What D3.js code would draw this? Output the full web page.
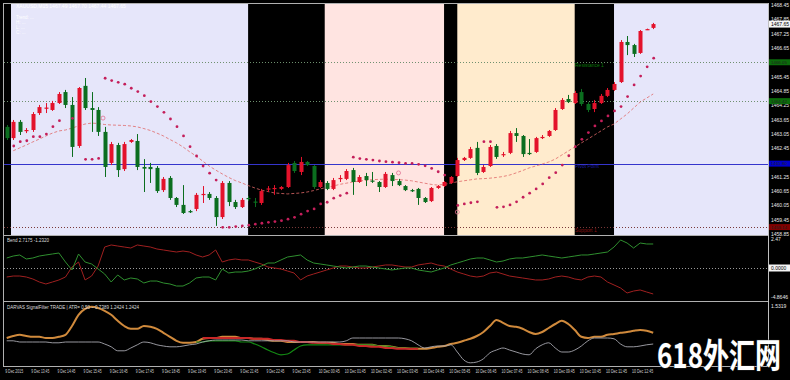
<!DOCTYPE html>
<html><head><meta charset="utf-8">
<script src="https://cdn.jsdelivr.net/npm/d3@7"></script>
<style>body{margin:0;background:#000;overflow:hidden}svg{display:block}</style>
</head><body><svg id="c" width="790" height="380"></svg>
<script>
// ---------- DATA ----------
const opens  = [1463.34,1462.87,1463.55,1463.17,1463.21,1463.92,1464.13,1464.05,1464.34,1464.80,1464.26,1462.54,1465.06,1464.13,1464.05,1463.13,1461.83,1462.58,1461.57,1462.71,1462.75,1461.66,1461.66,1461.62,1460.69,1461.20,1460.36,1460.07,1459.81,1459.90,1460.51,1460.53,1460.36,1459.56,1460.99,1460.19,1459.98,1460.36,1460.21,1460.15,1460.74,1460.74,1460.74,1460.82,1461.83,1461.45,1461.87,1461.70,1460.82,1460.99,1460.74,1461.16,1461.16,1461.53,1461.03,1461.28,1461.09,1461.03,1460.82,1461.32,1461.07,1460.86,1460.69,1460.74,1460.36,1460.23,1460.78,1460.86,1460.99,1461.28,1461.95,1462.04,1462.46,1461.45,1461.70,1462.54,1462.16,1462.25,1463.08,1462.96,1462.25,1462.29,1462.87,1462.96,1463.21,1464.09,1464.51,1464.34,1464.80,1464.30,1464.09,1464.34,1464.64,1464.89,1465.22,1466.90,1466.77,1466.44,1467.42,1467.49];
const highs  = [1463.42,1463.63,1463.63,1463.29,1463.96,1464.26,1464.34,1464.43,1464.80,1464.89,1464.59,1465.01,1465.39,1464.80,1464.17,1463.34,1462.71,1462.67,1462.71,1462.83,1463.04,1461.99,1461.83,1461.70,1461.24,1461.28,1460.40,1460.90,1459.86,1460.57,1460.86,1460.61,1460.44,1461.07,1461.07,1460.28,1460.36,1460.44,1460.36,1460.74,1460.86,1460.90,1460.86,1461.83,1461.91,1462.08,1461.91,1461.74,1461.11,1461.07,1461.20,1461.32,1461.57,1461.62,1461.32,1461.41,1461.45,1461.07,1461.45,1461.41,1461.16,1460.90,1460.74,1460.78,1460.40,1460.82,1460.90,1461.07,1461.28,1462.04,1462.08,1462.50,1462.71,1461.74,1462.58,1462.62,1462.29,1463.17,1463.29,1463.00,1462.83,1462.92,1463.00,1463.21,1464.13,1464.55,1464.68,1464.85,1464.93,1464.38,1464.47,1464.72,1464.97,1465.22,1466.98,1467.15,1466.82,1467.40,1467.46,1467.70];
const lows   = [1462.79,1462.79,1463.00,1463.08,1463.13,1463.84,1463.92,1464.01,1464.30,1464.13,1462.08,1462.46,1464.05,1463.13,1462.96,1461.24,1461.74,1461.24,1461.49,1462.67,1461.53,1460.61,1460.99,1460.57,1460.61,1460.28,1459.98,1459.69,1459.73,1459.81,1460.15,1460.28,1459.19,1459.48,1460.02,1459.90,1459.94,1460.23,1459.98,1460.07,1460.61,1460.49,1460.69,1460.78,1461.41,1461.32,1461.70,1460.74,1460.78,1460.69,1460.69,1461.03,1461.11,1460.49,1460.99,1460.86,1460.99,1460.61,1460.78,1460.86,1460.86,1460.65,1460.61,1460.07,1460.15,1460.19,1460.74,1460.82,1460.95,1461.24,1461.91,1462.00,1461.32,1461.41,1461.66,1462.00,1462.08,1462.20,1462.71,1462.08,1462.16,1462.25,1462.83,1462.92,1463.17,1464.05,1464.34,1464.30,1464.22,1463.96,1463.96,1464.30,1464.59,1464.85,1465.18,1466.35,1466.27,1466.40,1467.40,1467.44];
const closes = [1462.87,1463.55,1463.13,1463.21,1463.88,1464.17,1464.15,1464.34,1464.72,1464.26,1462.50,1464.97,1464.13,1464.05,1463.13,1461.66,1462.62,1461.53,1462.62,1462.79,1461.66,1461.59,1461.57,1460.65,1461.16,1460.36,1460.07,1459.73,1459.77,1460.49,1460.53,1460.36,1459.56,1460.99,1460.19,1459.98,1460.28,1460.32,1460.19,1460.65,1460.76,1460.78,1460.82,1461.74,1461.49,1461.87,1461.74,1460.82,1461.03,1460.74,1461.11,1461.20,1461.49,1461.03,1461.24,1461.11,1461.08,1460.82,1461.37,1461.07,1460.90,1460.69,1460.67,1460.36,1460.19,1460.78,1460.86,1461.03,1461.24,1461.95,1462.04,1462.41,1461.41,1461.66,1462.50,1462.08,1462.20,1463.08,1462.96,1462.20,1462.23,1462.87,1462.92,1463.17,1464.05,1464.47,1464.38,1464.76,1464.30,1464.05,1464.34,1464.64,1464.89,1465.14,1466.90,1466.77,1466.40,1467.36,1467.44,1467.65];
const sar = [null,1462.54,1462.72,1462.76,1462.93,1462.93,1463.04,1463.35,1463.60,null,1463.70,null,1461.98,1461.98,1462.02,
  1465.38,1465.28,1465.21,1465.13,1464.96,1464.82,1464.65,1464.40,1464.19,1463.95,1463.67,1463.35,1462.96,1462.51,1462.12,1461.70,1461.40,1461.11,
  1459.13,1459.13,1459.16,1459.19,1459.22,1459.26,1459.30,1459.34,1459.37,1459.41,1459.47,1459.55,1459.68,1459.81,1459.90,1460.11,1460.18,1460.35,1460.46,1460.56,
  1462.07,1462.01,1461.98,1461.95,1461.91,1461.88,1461.86,1461.84,1461.81,1461.81,1461.77,1461.71,1461.60,1461.46,1461.32,
  null,1460.05,1460.11,1460.16,1460.20,1462.72,1462.72,
  1459.97,1459.99,1460.07,1460.20,1460.39,1460.56,1460.74,1460.95,1461.21,1461.42,1461.74,1462.13,1462.51,1462.82,1463.10,1463.38,1463.59,1463.80,1464.01,1464.19,1464.61,1465.10,1465.47,1465.86,1466.22];
const ma = [null,1462.34,1462.46,1462.58,1462.71,1462.83,1462.96,1463.08,1463.17,1463.21,1463.29,1463.38,1463.46,1463.50,1463.48,1463.44,1463.42,1463.41,1463.40,1463.38,1463.34,1463.27,1463.19,1463.08,1462.96,1462.81,1462.67,1462.50,1462.30,1462.12,1461.91,1461.70,1461.53,1461.37,1461.22,1461.09,1460.99,1460.88,1460.78,1460.69,1460.63,1460.57,1460.55,1460.53,1460.55,1460.57,1460.61,1460.67,1460.74,1460.80,1460.86,1460.93,1460.98,1461.03,1461.07,1461.10,1461.13,1461.14,1461.15,1461.14,1461.13,1461.11,1461.08,1461.03,1460.98,1460.93,1460.90,1460.93,1460.98,1461.04,1461.08,1461.12,1461.16,1461.17,1461.19,1461.22,1461.26,1461.32,1461.41,1461.51,1461.62,1461.70,1461.78,1461.87,1461.99,1462.16,1462.33,1462.50,1462.67,1462.83,1463.00,1463.17,1463.34,1463.46,1463.67,1463.88,1464.13,1464.38,1464.55,1464.72];
const markerIdx = [14.75, 60, 69];
const markerPrice = [1463.71, 1461.41, 1459.77];
const levelPrice = [1466.05, 1464.42, 1461.80, 1459.14];
const levelKind  = ["res", "res", "pivot", "sup"];
const levelText  = ["Resistance 1", "", "Pivot Point", "Support 1"];
const sessionStart = [-0.42, 0.66, 37, 48.7, 67, 69, 87, 93];
const sessionEnd   = [0.66, 37, 48.7, 67, 69, 87, 93, 120];
const sessionKind  = ["off","lav","off","pink","off","peach","off","lav"];
const priceTicks = [1468.45,1467.85,1467.25,1466.65,1466.05,1465.45,1464.85,1464.25,1463.65,1463.05,1462.45,1461.85,1461.25,1460.65,1460.05,1459.45,1458.85];
const timeLabels = ["9 Dec 2015","9 Dec 13:45","9 Dec 14:45","9 Dec 15:45","9 Dec 16:45","9 Dec 17:45","9 Dec 18:45","9 Dec 19:45","9 Dec 20:45","9 Dec 21:45","9 Dec 22:45","9 Dec 23:45","10 Dec 00:45","10 Dec 01:45","10 Dec 02:45","10 Dec 03:45","10 Dec 04:45","10 Dec 05:45","10 Dec 06:45","10 Dec 07:45","10 Dec 08:45","10 Dec 09:45","10 Dec 10:45","10 Dec 11:45","10 Dec 12:45"];
const infoLines = ["Trend: ...","H: ...","L: ...","C: ..."];
// panel 1 (Bend)
const bendGreen = [1.52,1.82,1.98,1.37,1.52,1.82,1.98,2.13,2.28,0.91,-0.30,2.13,0.91,0.61,-0.15,-0.91,-2.13,-1.06,-1.82,-1.52,-1.67,-2.28,-1.98,-1.98,-2.28,-2.43,-2.74,-2.74,-2.28,-1.52,-1.37,-1.37,-1.82,-0.15,-0.76,-0.61,-0.61,-0.46,-0.15,0.30,0.76,0.76,1.22,1.67,1.82,1.98,1.22,0.76,0.61,0.46,0.30,0.15,0,0.15,0.30,0.30,0.15,0,-0.15,-0.30,-0.15,0,0,-0.30,-0.46,-0.61,-0.30,0,0.46,0.76,1.06,1.37,1.52,1.52,1.22,0.91,1.06,1.37,1.52,1.52,1.67,1.82,1.98,1.82,1.67,1.52,1.67,1.82,1.98,1.98,2.13,2.28,2.43,3.19,4.26,3.80,3.04,3.80,3.65,3.65];
const bendRed = [-1.37,-1.22,-1.22,-1.37,-1.67,-2.13,-2.43,-2.13,-1.82,-1.37,0.15,0.91,-1.82,-1.22,0.30,3.19,3.50,3.34,3.19,3.04,3.50,3.34,3.19,2.89,2.74,2.58,2.43,2.58,2.43,1.98,1.67,1.98,2.74,0.91,1.22,1.37,1.22,1.22,0.91,0.61,0.15,0,-0.15,-0.46,-0.76,-1.82,-1.22,-0.91,-0.61,-0.30,0,0.30,0.30,0.15,0,0,0.15,0.30,0.46,0.46,0.30,0.15,0.15,0.46,0.61,0.76,0.46,0.30,-0.15,-0.61,-0.91,-1.22,-1.37,-1.22,-0.76,-0.61,-0.91,-1.22,-1.37,-1.52,-1.67,-1.82,-1.82,-1.67,-1.37,-1.22,-1.37,-1.67,-1.82,-1.37,-1.22,-1.37,-2.13,-2.58,-3.04,-3.80,-3.50,-3.34,-3.65,-3.95];
const bendTicks = ["2.47","0.0000","-4.8646"];
const bendTickVal = [4.4, 0, -4.8646];
// panel 2 (Darvas)
const darvasOrange = [0.70,0.75,0.78,0.75,0.73,0.73,0.70,0.70,0.73,0.78,1.00,1.28,1.43,1.48,1.45,1.38,1.28,1.13,1.00,0.93,0.93,1.00,0.98,0.93,0.83,0.73,0.63,0.58,0.58,0.60,0.68,0.70,0.70,0.73,0.73,0.73,0.70,0.70,0.68,0.68,0.65,0.63,0.63,0.60,0.60,0.60,0.60,0.60,0.58,0.58,0.58,0.55,0.55,0.55,0.53,0.53,0.53,0.50,0.50,0.48,0.45,0.45,0.43,0.43,0.43,0.45,0.48,0.50,0.55,0.58,0.63,0.68,0.75,0.85,1.00,1.15,1.08,1.00,0.98,0.93,0.85,0.80,0.85,0.95,1.05,1.13,1.05,0.90,0.73,0.70,0.73,0.73,0.78,0.80,0.83,0.85,0.88,0.90,0.88,0.83];
const darvasGray = [0.63,0.63,0.60,0.60,0.60,0.60,0.60,0.58,0.58,0.60,0.60,0.60,0.60,0.60,0.60,0.55,0.48,0.38,0.38,0.45,0.53,0.60,0.58,0.53,0.50,0.48,0.48,0.50,0.53,0.55,0.60,0.63,0.65,0.65,0.65,0.65,0.65,0.63,0.63,0.63,0.63,0.63,0.63,0.63,0.60,0.60,0.60,0.60,0.60,0.60,0.60,0.60,0.63,0.70,0.70,0.70,0.70,0.70,0.70,0.70,0.70,0.68,0.63,0.53,0.45,0.48,0.50,0.50,0.53,0.35,0.15,0.08,0.10,0.18,0.33,0.40,0.45,0.40,0.35,0.30,0.28,0.43,0.53,0.58,0.45,0.35,0.35,0.40,0.50,0.63,0.70,0.70,0.70,0.68,0.55,0.48,0.48,0.50,0.53,0.55];
const darvasGreen = [null,null,null,null,null,null,null,null,null,null,null,null,null,null,null,null,null,null,null,null,null,null,null,null,null,null,null,null,null,0.60,0.60,0.63,0.63,0.63,0.63,0.63,0.60,0.60,0.55,0.48,0.40,0.33,0.28,0.30,0.40,0.50,0.53,0.53,0.53,0.53,0.53,0.53,0.53,0.53,0.53,0.53,0.53,0.50,0.50,0.48,0.45,0.45,0.45,0.45];
const darvasRed = [null,null,null,null,null,null,null,null,null,null,null,null,null,null,null,null,null,null,null,null,null,null,null,null,null,null,null,null,null,null,0.70,0.70,0.70,0.70,0.70,0.70,0.70,0.70,0.68,0.68,0.68,0.65,0.65,0.63,0.63,0.60,0.60,0.58,0.58,0.58,0.55,0.55,0.53,0.53,0.50,0.50,0.48,0.48,0.45,0.45,0.43,0.43,0.43,0.43];
const darvasTop = "1.5319";

// ---------- LAYOUT / STYLE ----------
const plotL = 4, plotR = 768, mainT = 4, mainB = 235;
const p1T = 236, p1B = 300, p2T = 303, p2B = 366;
const RED = "#e3122b", GREEN = "#0b6e1f";
const bandColor = {off:"#000000", lav:"#e6e6fa", pink:"#ffe4e1", peach:"#ffebcd"};
const levelStyle = {res:{c:"#6f906f",dash:"1,2",box:"#0b6b0b",txt:"#0a7a0a"}, pivot:{c:"#3535cc",dash:null,box:"#0000cd",txt:"#1a1aa0"}, sup:{c:"#7a3a3a",dash:"1,2",box:"#800000",txt:"#8a1010"}};
const FONT = "Liberation Sans, Arial, sans-serif";

const svg = d3.select("#c");
svg.append("rect").attr("width",790).attr("height",380).attr("fill","#000");

const x = d3.scaleLinear().domain([0,99]).range([6.7,653.2]);
const y = d3.scaleLinear().domain([1458.85,1468.45]).range([234,5]);
const y1 = d3.scaleLinear().domain([-4.8646,4.8646]).range([p1B,p1T]);
const y2 = d3.scaleLinear().domain([0,1.575]).range([p2B,p2T]);

const defs = svg.append("defs");
defs.append("clipPath").attr("id","cm").append("rect").attr("x",plotL).attr("y",mainT).attr("width",plotR-plotL).attr("height",mainB-mainT);
defs.append("clipPath").attr("id","cp").append("rect").attr("x",plotL).attr("y",0).attr("width",plotR-plotL).attr("height",380);

// ---------- MAIN ----------
const gm = svg.append("g").attr("clip-path","url(#cm)");
const sIdx = d3.range(sessionStart.length);
gm.selectAll("rect.band").data(sIdx).join("rect")
  .attr("x",i=>Math.max(plotL,x(sessionStart[i]))).attr("y",mainT)
  .attr("width",i=>Math.min(plotR,x(sessionEnd[i]))-Math.max(plotL,x(sessionStart[i])))
  .attr("height",mainB-mainT).attr("fill",i=>bandColor[sessionKind[i]]);

const lIdx = d3.range(levelPrice.length);
gm.selectAll("line.lvl").data(lIdx).join("line")
  .attr("x1",plotL).attr("x2",plotR)
  .attr("y1",i=>Math.round(y(levelPrice[i]))+0.5).attr("y2",i=>Math.round(y(levelPrice[i]))+0.5)
  .attr("stroke",i=>levelStyle[levelKind[i]].c).attr("stroke-width",1)
  .attr("stroke-dasharray",i=>levelStyle[levelKind[i]].dash);

// moving average
gm.append("path").datum(ma).attr("fill","none").attr("stroke","#e06868").attr("stroke-width",0.8)
  .attr("stroke-dasharray","3,2")
  .attr("d",d3.line().defined(d=>d!=null).x((d,i)=>x(i)).y(d=>y(d)));

const cIdx = d3.range(opens.length);
const col = i => closes[i] >= opens[i] ? RED : GREEN;
gm.selectAll("line.wick").data(cIdx).join("line")
  .attr("x1",i=>Math.round(x(i))+0.5).attr("x2",i=>Math.round(x(i))+0.5)
  .attr("y1",i=>y(highs[i])).attr("y2",i=>y(lows[i])).attr("stroke",col).attr("stroke-width",1);
gm.selectAll("rect.body").data(cIdx).join("rect")
  .attr("x",i=>Math.round(x(i))-1.5).attr("width",4)
  .attr("y",i=>y(Math.max(opens[i],closes[i])))
  .attr("height",i=>Math.max(1.2,Math.abs(y(opens[i])-y(closes[i]))))
  .attr("fill",col);

// SAR
gm.selectAll("circle.sar").data(cIdx.filter(i=>sar[i]!=null)).join("circle")
  .attr("cx",i=>x(i)+0.5).attr("cy",i=>y(sar[i])).attr("r",1.4).attr("fill","#c41e5a");

// markers
gm.selectAll("circle.mk").data(d3.range(markerIdx.length)).join("circle")
  .attr("cx",i=>x(markerIdx[i])).attr("cy",i=>y(markerPrice[i])).attr("r",2)
  .attr("fill","none").attr("stroke","#e07090").attr("stroke-width",0.8);

// level texts
gm.selectAll("text.lt").data(lIdx.filter(i=>levelText[i])).join("text")
  .attr("x",575).attr("y",i=>y(levelPrice[i])+4.5).text(i=>levelText[i])
  .attr("font-family",FONT).attr("font-size",5).attr("fill",i=>levelStyle[levelKind[i]].txt);

// info texts
svg.append("rect").attr("x",5).attr("y",4).attr("width",3).attr("height",3).attr("fill","#000");
svg.append("text").attr("x",16).attr("y",8).text("XAUUSD,M15  1467.49 1467.70 1467.44 1467.65")
  .attr("font-family",FONT).attr("font-size",5).attr("fill","#ffffff");
svg.selectAll("text.info").data(infoLines).join("text").attr("x",16).attr("y",(d,i)=>19+i*5).text(d=>d)
  .attr("font-family",FONT).attr("font-size",4.5).attr("fill","#ffffff");

// ---------- PANEL 1 ----------
const g1 = svg.append("g").attr("clip-path","url(#cp)");
g1.append("line").attr("x1",plotL).attr("x2",plotR).attr("y1",y1(0)+0.5).attr("y2",y1(0)+0.5)
  .attr("stroke","#9a9a9a").attr("stroke-dasharray","1,2");
g1.append("path").datum(bendRed).attr("fill","none").attr("stroke","#a02020").attr("stroke-width",1)
  .attr("d",d3.line().x((d,i)=>x(i)).y(d=>y1(d)));
g1.append("path").datum(bendGreen).attr("fill","none").attr("stroke","#2f8f2f").attr("stroke-width",1)
  .attr("d",d3.line().x((d,i)=>x(i)).y(d=>y1(d)));
svg.append("text").attr("x",7).attr("y",p1T+6).text("Bend 2.7175 -1.2320")
  .attr("font-family",FONT).attr("font-size",4.5).attr("fill","#dddddd");

// ---------- PANEL 2 ----------
const g2 = svg.append("g").attr("clip-path","url(#cp)");
const ln2 = d3.line().defined(d=>d!=null).x((d,i)=>x(i)).y(d=>y2(d)).curve(d3.curveMonotoneX);
g2.append("path").datum(darvasOrange).attr("fill","none").attr("stroke","#d08a3c").attr("stroke-width",2).attr("d",ln2);
g2.append("path").datum(darvasGreen).attr("fill","none").attr("stroke","#138a13").attr("stroke-width",1.2).attr("d",ln2);
g2.append("path").datum(darvasRed).attr("fill","none").attr("stroke","#c82828").attr("stroke-width",2).attr("d",ln2);
g2.append("path").datum(darvasGray).attr("fill","none").attr("stroke","#a8a8b0").attr("stroke-width",0.9).attr("d",ln2);
svg.append("text").attr("x",7).attr("y",p2T+6).text("DARVAS SignalFilter TRADE  |  ATR= 0.50  ~  0.7389  1.2424  1.2424")
  .attr("font-family",FONT).attr("font-size",4.5).attr("fill","#dddddd");

// ---------- FRAMES ----------
[mainB+0.5, 301.5, p2B+0.5].forEach(v=>svg.append("line").attr("x1",plotL).attr("x2",plotR).attr("y1",v).attr("y2",v).attr("stroke","#b0b0b0"));
svg.append("line").attr("x1",plotL).attr("x2",plotR).attr("y1",mainT-0.5).attr("y2",mainT-0.5).attr("stroke","#b0b0b0");
svg.append("line").attr("x1",plotR+0.5).attr("x2",plotR+0.5).attr("y1",mainT-1).attr("y2",p2B+1).attr("stroke","#c0c0c0");
svg.append("line").attr("x1",plotL-0.5).attr("x2",plotL-0.5).attr("y1",mainT-1).attr("y2",p2B+1).attr("stroke","#b0b0b0");

// ---------- PRICE AXIS ----------
const boxY = lIdx.map(i=>y(levelPrice[i]));
const visTicks = priceTicks.filter(d=>boxY.every(b=>Math.abs(y(d)-b)>3));
svg.selectAll("text.pt").data(visTicks).join("text").attr("x",771).attr("y",d=>y(d)+2).text(d=>d.toFixed(2))
  .attr("font-family",FONT).attr("font-size",5).attr("fill","#e8e8e8");
svg.selectAll("rect.lb").data(lIdx).join("rect").attr("x",769).attr("y",i=>y(levelPrice[i])-3)
  .attr("width",21).attr("height",6).attr("fill",i=>levelStyle[levelKind[i]].box);
svg.selectAll("text.lbt").data(lIdx).join("text").attr("x",771).attr("y",i=>y(levelPrice[i])+1.6)
  .text(i=>levelPrice[i].toFixed(2)).attr("font-family",FONT).attr("font-size",4.4).attr("fill","#202020");
const last = closes[closes.length-1];
svg.append("rect").attr("x",769).attr("y",y(last)-3.5).attr("width",21).attr("height",7).attr("fill","#f4f4f4");
svg.append("text").attr("x",771).attr("y",y(last)+2).text(last.toFixed(2)).attr("font-family",FONT).attr("font-size",5).attr("fill","#000");

// panel axes
svg.append("rect").attr("x",769).attr("y",y1(0)-3.5).attr("width",21).attr("height",7).attr("fill","#f4f4f4");
svg.selectAll("text.b1").data(d3.range(bendTicks.length)).join("text").attr("x",771)
  .attr("y",i=>Math.min(p1B-1,Math.max(p1T+5,y1(bendTickVal[i])+2))).text(i=>bendTicks[i])
  .attr("font-family",FONT).attr("font-size",5).attr("fill",i=>bendTickVal[i]===0?"#000":"#e8e8e8");
svg.append("text").attr("x",771).attr("y",p2T+5).text(darvasTop).attr("font-family",FONT).attr("font-size",5).attr("fill","#e8e8e8");

// ---------- TIME AXIS ----------
svg.selectAll("text.tl").data(timeLabels).join("text").attr("x",(d,i)=>x(i*4)-1.5).attr("y",373).text(d=>d)
  .attr("textLength",d=>d.length>11?21:18).attr("lengthAdjust","spacingAndGlyphs")
  .attr("font-family",FONT).attr("font-size",4.5).attr("fill","#d0d0d0");

// ---------- WATERMARK ----------
svg.append("text").attr("transform","translate(657,368) scale(1,1.3)").text("618外汇网")
  .attr("font-family","Noto Sans CJK SC, sans-serif").attr("font-weight","bold").attr("font-size",26)
  .attr("fill","#ffffff").attr("stroke","#222").attr("stroke-width",0.8).attr("paint-order","stroke");
</script></body></html>
